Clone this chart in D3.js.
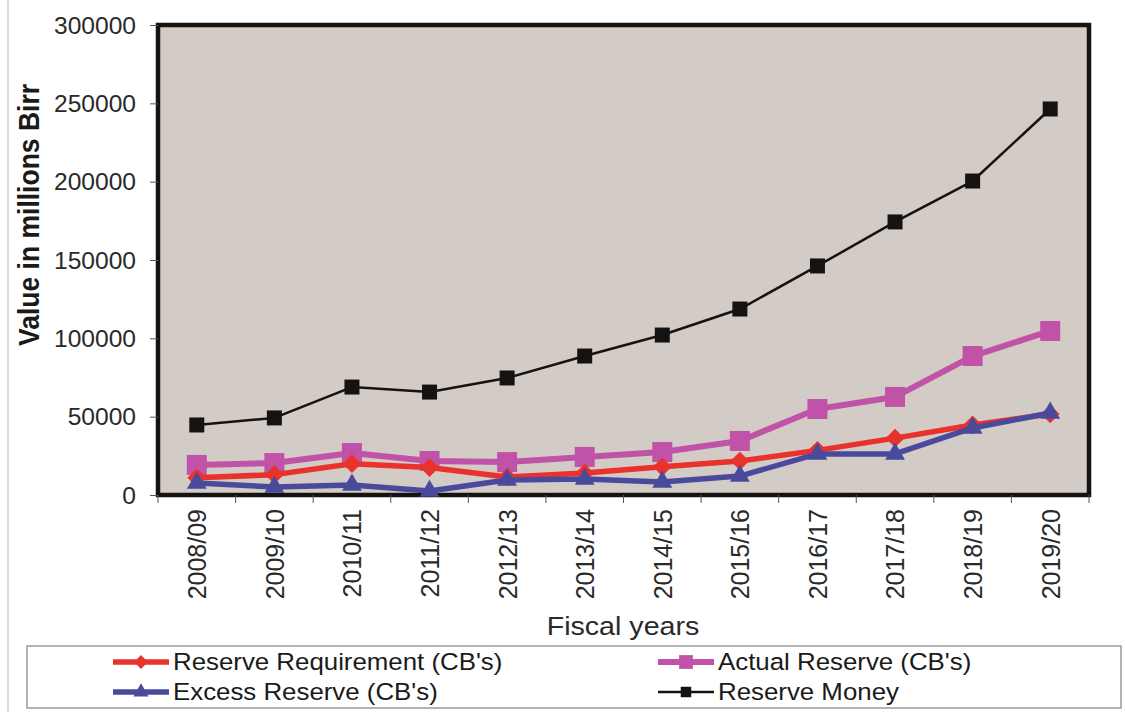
<!DOCTYPE html>
<html>
<head>
<meta charset="utf-8">
<script src="https://cdn.jsdelivr.net/npm/d3@7"></script>
<style>
body { margin: 0; background: #fff; }
svg { display: block; font-family: 'Liberation Sans', Arial, sans-serif; }
</style>
</head>
<body>
<svg id="chart" width="1125" height="712"></svg>
<script>
//data (millions Birr)
var years = ['2008/09', '2009/10', '2010/11', '2011/12', '2012/13', '2013/14',
	'2014/15', '2015/16', '2016/17', '2017/18', '2018/19', '2019/20'];
var reserveRequirement = [11000, 13000, 20000, 17500, 11500, 14000, 18000, 21700, 28500, 36300, 44700, 51700];
var actualReserve = [19200, 20400, 26800, 21700, 21000, 24300, 27400, 34500, 54900, 62600, 88700, 104700];
var excessReserve = [7700, 5100, 6400, 2500, 9600, 10200, 8300, 12100, 26200, 26200, 42800, 52300];
var reserveMoney = [44700, 49200, 68900, 65700, 74700, 88700, 102100, 118700, 146200, 174300, 200400, 246400];
var yTicks = [0, 50000, 100000, 150000, 200000, 250000, 300000];

//common layout vars
var fv = {
	'left': 158,
	'right': 1089,
	'top': 25,
	'bottom': 495,
	'sx': 1.07 //source image is a bit stretched horizontally
};

var svg = d3.select('#chart');

//faint page edge on the left
svg.append('line')
	.attr('x1', 8).attr('x2', 8)
	.attr('y1', 0).attr('y2', 712)
	.style('stroke', '#cfcfcf')
	.style('stroke-width', 1.5);

//scales
var x = d3.scaleBand()
	.domain(years)
	.range([fv.left, fv.right]);
var xc = function(d) { return x(d) + x.bandwidth() / 2; };

var y = d3.scaleLinear()
	.domain([0, 300000])
	.range([fv.bottom, fv.top]);

//plot background + frame
svg.append('rect')
	.attr('x', fv.left)
	.attr('y', fv.top)
	.attr('width', fv.right - fv.left)
	.attr('height', fv.bottom - fv.top)
	.style('fill', '#d3cbc6')
	.style('stroke', '#151311')
	.style('stroke-width', 4.5);

//y axis
var yAxis = svg.append('g')
	.attr('transform', 'translate(' + fv.left + ',0)')
	.call(d3.axisLeft(y).tickValues(yTicks).tickSize(8).tickFormat(d3.format('d')));
yAxis.select('.domain').remove();
yAxis.selectAll('line').style('stroke', '#555');
yAxis.selectAll('text')
	.attr('x', -22 / fv.sx)
	.attr('dy', '0.36em')
	.attr('transform', 'scale(' + fv.sx + ',1)')
	.style('font-family', "'Liberation Sans', Arial, sans-serif")
	.style('font-size', '23px')
	.style('fill', '#2a2a2a');

//x ticks on the band edges
var edges = years.map(function(d) { return x(d); }).concat([fv.right]);
svg.append('g').selectAll('line')
	.data(edges)
	.enter().append('line')
	.attr('x1', function(d) { return d; })
	.attr('x2', function(d) { return d; })
	.attr('y1', fv.bottom)
	.attr('y2', fv.bottom + 8)
	.style('stroke', '#555');

//x labels, rotated
svg.append('g').selectAll('text')
	.data(years)
	.enter().append('text')
	.attr('transform', function(d) { return 'translate(' + xc(d) + ',' + (fv.bottom + 14) + ') scale(1.05,1) rotate(-90)'; })
	.attr('dy', '0.36em')
	.attr('text-anchor', 'end')
	.style('font-size', '25px')
	.style('fill', '#2a2a2a')
	.text(function(d) { return d; });

//axis titles
svg.append('text')
	.attr('transform', 'translate(29,215) scale(1.1,1) rotate(-90)')
	.attr('dy', '0.36em')
	.attr('text-anchor', 'middle')
	.style('font-size', '26.5px')
	.style('font-weight', 'bold')
	.style('fill', '#1a1a1a')
	.text('Value in millions Birr');

svg.append('text')
	.attr('transform', 'translate(623,635) scale(1.08,1)')
	.attr('text-anchor', 'middle')
	.style('font-size', '26.5px')
	.style('fill', '#2a2a2a')
	.text('Fiscal years');

//series definitions
var series = [
	{'name': "Actual Reserve (CB's)", 'values': actualReserve, 'color': '#c052a8', 'width': 6, 'shape': d3.symbolSquare, 'size': 400, 'rot': 0, 'lsize': 190},
	{'name': "Reserve Requirement (CB's)", 'values': reserveRequirement, 'color': '#e8322b', 'width': 5.5, 'shape': d3.symbolSquare, 'size': 175, 'rot': 45, 'lsize': 95},
	{'name': "Excess Reserve (CB's)", 'values': excessReserve, 'color': '#4a4a9d', 'width': 5.5, 'shape': d3.symbolTriangle, 'size': 170, 'rot': 0, 'lsize': 100},
	{'name': 'Reserve Money', 'values': reserveMoney, 'color': '#151311', 'width': 2.5, 'shape': d3.symbolSquare, 'size': 225, 'rot': 0, 'lsize': 110}
];

var line = d3.line()
	.x(function(d, i) { return xc(years[i]); })
	.y(function(d) { return y(d); });

series.forEach(function(s) {
	var g = svg.append('g');
	g.append('path')
		.attr('d', line(s.values))
		.style('fill', 'none')
		.style('stroke', s.color)
		.style('stroke-width', s.width)
		.style('stroke-linejoin', 'round');
	g.selectAll('.mk')
		.data(s.values)
		.enter().append('path')
		.attr('class', 'mk')
		.attr('transform', function(d, i) { return 'translate(' + xc(years[i]) + ',' + y(d) + ') rotate(' + s.rot + ')'; })
		.attr('d', d3.symbol().type(s.shape).size(s.size))
		.style('fill', s.color);
});

//-----------------------------------------------------legend START
svg.append('rect')
	.attr('x', 27)
	.attr('y', 646)
	.attr('width', 1094)
	.attr('height', 62)
	.style('fill', '#fff')
	.style('stroke', '#9a9a9a')
	.style('stroke-width', 1.5);

var legendPos = {
	"Reserve Requirement (CB's)": [113, 662],
	"Actual Reserve (CB's)": [658, 662],
	"Excess Reserve (CB's)": [113, 692],
	'Reserve Money': [658, 692]
};

series.forEach(function(s) {
	var p = legendPos[s.name];
	var g = svg.append('g').attr('transform', 'translate(' + p[0] + ',' + p[1] + ')');
	g.append('line')
		.attr('x1', 0).attr('x2', 56)
		.style('stroke', s.color)
		.style('stroke-width', s.width);
	g.append('path')
		.attr('transform', 'translate(28,0) rotate(' + s.rot + ')')
		.attr('d', d3.symbol().type(s.shape).size(s.lsize))
		.style('fill', s.color);
	g.append('text')
		.attr('transform', 'translate(60,0) scale(1.1,1)')
		.attr('dy', '0.36em')
		.style('font-size', '23.5px')
		.style('fill', '#1a1a1a')
		.text(s.name);
});
//-----------------------------------------------------legend END
</script>
</body>
</html>
